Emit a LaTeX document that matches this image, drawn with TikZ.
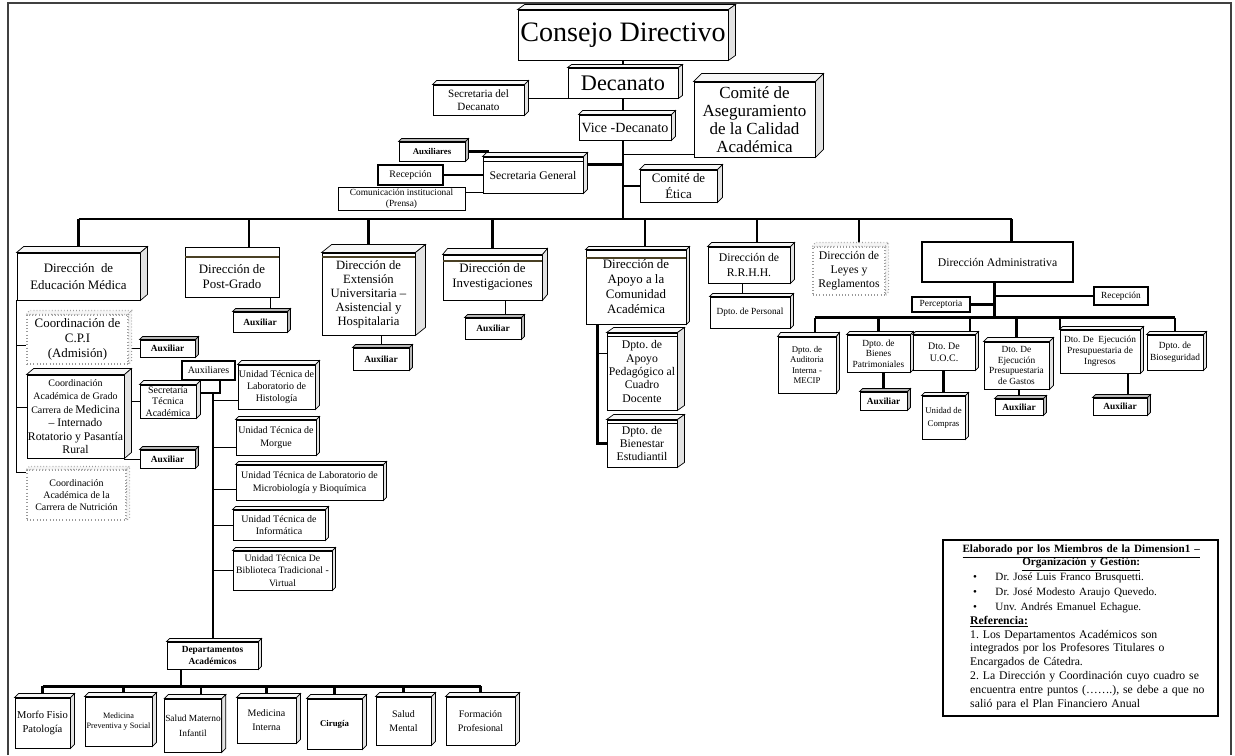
\documentclass[tikz,border=0pt]{standalone}
\usepackage{fontspec}
\setmainfont{Liberation Serif}
\usetikzlibrary{calc,backgrounds}
\definecolor{bandc}{RGB}{74,64,36}
\newcommand\myfs[2]{\fontsize{#1}{#2}\selectfont}
\newcommand\bx[7][]{\node[box,#1,minimum width={(#5-#3)*0.03cm},minimum height={(#6-#4)*0.03cm}] (#2) at ({(#3+#5)/2},{(#4+#6)/2}) {#7};}
\newcommand\mycube[4][]{%
 \filldraw[topface,#1] (#2.north west) -- ++(#3,-#4) -- ([shift={(#3,-#4)}]#2.north east) -- (#2.north east) -- cycle;
 \filldraw[sideface,#1] (#2.north east) -- ++(#3,-#4) -- ([shift={(#3,-#4)}]#2.south east) -- (#2.south east) -- cycle;}
\newcommand\myband[2]{\draw[bandline] ($(#1.north west)+(0.8,#2)$) -- ($(#1.north east)+(-0.8,#2)$);}
\tikzset{
 box/.style={draw, fill=white, line width=0.75pt, inner sep=0.5pt, align=center},
 dotbox/.style={draw=gray!80, dotted, line width=1pt},
 topface/.style={draw, fill=gray!6, line width=0.6pt},
 sideface/.style={draw, fill=gray!22, line width=0.6pt},
 darkface/.style={fill=gray!55},
 bandline/.style={draw=bandc, line width=1.6pt},
 thickl/.style={line width=2.3pt},
 medl/.style={line width=1.3pt},
 thinl/.style={line width=0.7pt},
 auxtxt/.style={font=\bfseries\myfs{8}{9}},
}
\begin{document}
\frenchspacing
\begin{tikzpicture}[x=0.03cm,y=-0.03cm]
\useasboundingbox (0,0) rectangle (1235,755);
\draw[line width=1.2pt, black!75] (8,755) -- (8,3) -- (1231,3) -- (1231,755);

% ---------- top ----------
\bx[font=\myfs{24}{28}]{cd}{518}{10}{728}{60}{Consejo Directivo}
\mycube{cd}{7}{5}
\bx[font=\myfs{19}{22}]{dec}{568}{68}{678}{98}{Decanato}
\mycube{dec}{4}{3}
\bx[font=\myfs{9.5}{11}]{secdec}{433}{85}{524}{115}{Secretaria del\\Decanato}
\mycube{secdec}{4}{4}
\bx[font=\myfs{12}{14}]{vice}{579}{115}{671}{140}{Vice -Decanato}
\mycube{vice}{4}{4}
\bx[font=\myfs{14.5}{15.4}]{comite}{694}{82}{815}{157}{Comité de\\Aseguramiento\\de la Calidad\\Académica}
\mycube{comite}{8}{8}
\bx[font=\bfseries\myfs{7.5}{9}]{aux0}{399}{142}{465}{161}{Auxiliares}
\mycube[darkface]{aux0}{3}{3}
\bx[font=\myfs{10}{12}]{sg}{483}{157}{583}{193}{Secretaria General}
\mycube{sg}{4}{4}
\draw[thinl] ($(sg.north west)+(0,5)$) -- ($(sg.north east)+(0,5)$);
\bx[font=\myfs{8.5}{10}, line width=1pt]{rec0}{378}{165}{443}{185}{Recepción}
\bx[font=\myfs{8}{9}]{com}{338}{187}{465}{210}{Comunicación institucional\\(Prensa)}
\bx[font=\myfs{11}{13}]{etica}{640}{170}{717}{202}{Comité de\\Ética}
\mycube{etica}{5}{5}

% ---------- level 2 ----------
\bx[font=\myfs{11}{15}]{dem}{17}{253}{140}{300}{Dirección~~de\\Educación Médica}
\mycube{dem}{7}{6}
\bx[font=\myfs{11}{13}]{dpg}{185}{247}{279}{297}{\\[2pt]Dirección de\\Post-Grado}
\myband{dpg}{10}
\bx[font=\myfs{10.8}{12}]{dext}{322}{253}{415}{335}{\\[-4pt]Dirección de\\Extensión\\Universitaria –\\Asistencial y\\Hospitalaria}
\mycube{dext}{10}{8}
\myband{dext}{4}
\bx[font=\myfs{11}{13}]{dinv}{443}{255}{542}{300}{\\[-6pt]Dirección de\\Investigaciones}
\mycube{dinv}{5}{6}
\myband{dinv}{6}
\bx[font=\myfs{11}{13}]{dapoyo}{586}{250}{686}{324}{\\[-6pt]Dirección de\\Apoyo a la\\Comunidad\\Académica}
\mycube{dapoyo}{3}{3}
\myband{dapoyo}{8}
\bx[font=\myfs{10}{12}]{rrhh}{708}{247}{790}{283}{Dirección de\\R.R.H.H.}
\mycube{rrhh}{4}{4}
\bx[dotbox,font=\myfs{10}{12}]{leyes}{813}{247}{885}{295}{Dirección de\\Leyes y\\Reglamentos}
\mycube[dotbox,fill=gray!8]{leyes}{3}{4}
\bx[font=\myfs{10}{12}, line width=1.2pt]{dadm}{922}{242}{1073}{282}{Dirección Administrativa}

% ---------- secondary ----------
\bx[auxtxt]{auxpg}{233}{312}{287}{332}{Auxiliar}
\mycube[darkface]{auxpg}{3}{3}
\bx[auxtxt]{auxext}{353}{348}{409}{370}{Auxiliar}
\mycube[darkface]{auxext}{3}{3}
\bx[auxtxt]{auxinv}{465}{318}{521}{339}{Auxiliar}
\mycube[darkface]{auxinv}{3}{3}
\bx[font=\myfs{10}{11.5}]{pedag}{607}{333}{677}{410}{Dpto. de\\Apoyo\\Pedagógico al\\Cuadro\\Docente}
\mycube{pedag}{7}{5}
\draw[thinl] ($(pedag.north west)+(0,4)$) -- ($(pedag.north east)+(0,4)$);
\bx[font=\myfs{10}{11.5}]{bienestar}{607}{420}{677}{467}{Dpto. de\\Bienestar\\Estudiantil}
\mycube{bienestar}{7}{5}
\draw[thinl] ($(bienestar.north west)+(0,4)$) -- ($(bienestar.north east)+(0,4)$);
\bx[font=\myfs{8}{10}]{personal}{710}{297}{790}{328}{Dpto. de Personal}
\mycube{personal}{3}{3}
\bx[font=\myfs{8}{9}, line width=1pt]{percep}{912}{297}{970}{312}{Perceptoria}
\bx[font=\myfs{8}{9}, line width=1pt]{rec1}{1094}{287}{1148}{305}{Recepción}
\bx[font=\myfs{7.5}{9}]{audit}{778}{337}{836}{393}{Dpto. de\\Auditoria\\Interna -\\MECIP}
\mycube{audit}{3}{4}
\bx[font=\myfs{8}{9}]{bienes}{847}{335}{910}{372}{Dpto. de\\Bienes\\Patrimoniales}
\mycube{bienes}{3}{3}
\bx[font=\myfs{8.5}{10.5}]{uoc}{913}{335}{975}{370}{Dto. De\\U.O.C.}
\mycube{uoc}{3}{3}
\bx[font=\myfs{7.5}{11}]{compras}{922}{396}{965}{439}{Unidad de\\Compras}
\mycube{compras}{3}{3}
\bx[auxtxt]{auxbienes}{860}{392}{907}{410}{Auxiliar}
\mycube[darkface]{auxbienes}{3}{3}
\bx[font=\myfs{8}{9}]{gastos}{984}{342}{1049}{389}{Dto. De\\Ejecución\\Presupuestaria\\de Gastos}
\mycube{gastos}{4}{4}
\bx[auxtxt]{auxgastos}{995}{399}{1043}{415}{Auxiliar}
\mycube[darkface]{auxgastos}{3}{3}
\bx[font=\myfs{8}{9.5}]{ingresos}{1060}{330}{1140}{373}{Dto. De~~Ejecución\\Presupuestaria de\\Ingresos}
\mycube{ingresos}{3}{3}
\bx[auxtxt]{auxing}{1093}{398}{1147}{415}{Auxiliar}
\mycube[darkface]{auxing}{3}{3}
\bx[font=\myfs{8}{10}]{bioseg}{1147}{335}{1203}{370}{Dpto. de\\Bioseguridad}
\mycube{bioseg}{3}{3}

% ---------- left column ----------
\bx[dotbox,font=\myfs{11}{13}]{cpi}{27}{315}{128}{364}{Coordinación de\\C.P.I\\(Admisión)}
\mycube[dotbox,fill=gray!8]{cpi}{3}{4}
\bx[auxtxt]{auxcpi}{140}{340}{195}{357}{Auxiliar}
\mycube[darkface]{auxcpi}{3}{3}
\bx[font=\myfs{8.5}{10}, line width=1pt]{auxs}{182}{361}{235}{380}{Auxiliares}
\bx[font=\myfs{8.5}{9.5}]{sta}{140}{385}{196}{418}{Secretaría\\Técnica\\Académica}
\mycube{sta}{4}{4}
\bx[font=\myfs{10}{11.5}]{cag}{27}{375}{124}{458}{{\myfs{8.5}{10}Coordinación}\\{\myfs{8.5}{10}Académica de Grado}\\{\myfs{8.5}{10}Carrera de }Medicina\\– Internado\\Rotatorio y Pasantía\\Rural}
\mycube{cag}{7}{6}
\bx[auxtxt]{auxcag}{140}{450}{195}{468}{Auxiliar}
\mycube[darkface]{auxcag}{3}{3}
\bx[dotbox,font=\myfs{8.5}{10.5}]{nutri}{27}{470}{126}{520}{Coordinación\\Académica de la\\Carrera de Nutrición}
\mycube[dotbox,fill=gray!8]{nutri}{3}{3}

% ---------- units ----------
\bx[font=\myfs{8.5}{10.5}]{histo}{238}{365}{315}{409}{Unidad Técnica de\\Laboratorio de\\Histología}
\mycube{histo}{4}{4}
\bx[font=\myfs{8.5}{10.5}]{morgue}{236}{420}{316}{455}{Unidad Técnica de\\Morgue}
\mycube{morgue}{3}{3}
\bx[font=\myfs{8.5}{10.5}]{micro}{236}{465}{383}{500}{Unidad Técnica de Laboratorio de\\Microbiología y Bioquímica}
\mycube{micro}{3}{3}
\bx[font=\myfs{8.5}{10.5}]{info}{233}{510}{325}{540}{Unidad Técnica de\\Informática}
\mycube{info}{3}{3}
\bx[font=\myfs{8.3}{10.5}]{biblio}{233}{551}{332}{590}{Unidad Técnica De\\Biblioteca Tradicional -\\Virtual}
\mycube{biblio}{3}{3}
\bx[font=\bfseries\myfs{8}{9.5}]{deptos}{167}{642}{258}{669}{Departamentos\\Académicos}
\mycube{deptos}{3}{3}

% ---------- bottom ----------
\bx[font=\myfs{9}{12}]{morfo}{15}{698}{70}{748}{Morfo Fisio\\Patología}
\mycube{morfo}{4}{4}
\bx[font=\myfs{7}{9}]{medprev}{85}{697}{152}{746}{Medicina\\Preventiva y Social}
\mycube{medprev}{4}{4}
\bx[font=\myfs{8}{13}]{saludmi}{165}{699}{221}{752}{Salud Materno\\Infantil}
\mycube{saludmi}{4}{4}
\bx[font=\myfs{8.5}{12}]{medint}{237}{698}{296}{743}{Medicina\\Interna}
\mycube{medint}{4}{4}
\bx[font=\bfseries\myfs{7.5}{9}]{cirugia}{307}{699}{362}{749}{Cirugía}
\mycube{cirugia}{4}{4}
\bx[font=\myfs{8.5}{12}]{smental}{376}{697}{431}{745}{Salud\\Mental}
\mycube{smental}{4}{4}
\bx[font=\myfs{8.5}{12}]{formacion}{446}{697}{515}{745}{Formación\\Profesional}
\mycube{formacion}{4}{4}

% ---------- legend ----------
\node[draw, line width=0.9pt, minimum width={275*0.03cm}, minimum height={176*0.03cm}, inner sep=0pt] (legend) at (1080.5,628) {};
\node[anchor=north west, inner sep=0pt, text width={270*0.03cm}, align=left] (legtext) at (946,545) {%
{\centering\bfseries\myfs{9.5}{11}\underline{Elaborado por los Miembros de la Dimension1 –}\\\underline{Organización y Gestión:}\par}%
{\myfs{9.5}{12.6}\leftskip=0.81cm\relax
\textbullet\hspace{0.55cm}Dr. José Luis Franco Brusquetti.\\
\textbullet\hspace{0.55cm}Dr. José Modesto Araujo Quevedo.\\
\textbullet\hspace{0.55cm}Unv. Andrés Emanuel Echague.\par}%
{\myfs{10}{11.9}\leftskip=0.72cm\relax
\textbf{\underline{Referencia:}}\\
1. Los Departamentos Académicos son\\
integrados por los Profesores Titulares o\\
Encargados de Cátedra.\\
2. La Dirección y Coordinación cuyo cuadro se\\
encuentra entre puntos (…….), se debe a que no\\
salió para el Plan Financiero Anual\par}%
};

% ---------- connectors ----------
\begin{pgfonlayer}{background}
\coordinate (bar) at (623,219);
\draw[thickl] (cd.south) -- (bar);
\coordinate (s1) at ($(secdec.east)+(0,-2)$);
\draw[thinl] (s1) -- (s1 -| dec.west);
\coordinate (c1) at ($(comite.south west)+(0,-3)$);
\draw[thinl] (c1) -- (c1 -| bar);
\draw[thickl] (aux0.east) -| ($(sg.north west)+(5,0)$);
\draw[thickl] (rec0.east) -- (rec0.east -| sg.west);
\coordinate (p1) at ($(com.north east)+(0,6)$);
\draw[thinl] (p1) -- (p1 -| sg.west);
\coordinate (g1) at ($(sg.north east)+(0,8)$);
\draw[thickl] (g1) -- (g1 -| bar);
\draw[thickl] (etica.west) -- (etica.west -| bar);

\coordinate (dpgd) at ($(dpg.north)+(17,0)$);
\coordinate (apd) at ($(dapoyo.north)+(9,0)$);
\coordinate (rhd) at ($(rrhh.north)+(8,0)$);
\coordinate (lyd) at ($(leyes.north)+(10,0)$);
\coordinate (add) at ($(dadm.north)+(14,0)$);
\draw[thickl] (bar -| dem.north) -- (bar -| add);
\foreach \t in {dem.north, dpgd, dext.north, dinv.north, apd, rhd, lyd, add}
  \draw[thickl] (bar -| \t) -- (\t);

\coordinate (k1) at ($(auxpg.north)+(10,0)$);
\draw[thinl] (k1 |- dpg.south) -- (k1);
\draw[thinl] (auxext.north |- dext.south) -- (auxext.north);
\coordinate (k2) at ($(auxinv.north)+(12,0)$);
\draw[thinl] (k2 |- dinv.south) -- (k2);
\coordinate (ap) at ($(dapoyo.south west)+(12,0)$);
\draw[thickl] (ap) |- (bienestar.west);
\coordinate (k3) at ($(pedag.north west)+(0,21)$);
\draw[thinl] (k3 -| ap) -- (k3);
\coordinate (k4) at ($(rrhh.south)+(-7,0)$);
\draw[thinl] (k4) -- (k4 |- personal.north);

\coordinate (sb) at ($(dadm.south)+(-3,35)$);
\draw[thickl] (sb |- dadm.south) -- (sb);
\draw[thickl] (percep.east) -- (percep.east -| sb);
\draw[thickl] (rec1.west) -- (rec1.west -| sb);
\coordinate (d1) at ($(audit.north)+(8,0)$);
\coordinate (d3) at ($(uoc.north)+(26,0)$);
\coordinate (d5) at ($(ingresos.north)+(-40,0)$);
\draw[thickl] (sb -| d1) -- (sb -| bioseg.north);
\foreach \t in {d1, bienes.north, d3, gastos.north, d5, bioseg.north}
  \draw[thickl] (sb -| \t) -- (\t);
\draw[thickl] (compras.north |- uoc.south) -- (compras.north);
\draw[thickl] (auxbienes.north |- bienes.south) -- (auxbienes.north);
\draw[thickl] (auxgastos.north |- gastos.south) -- (auxgastos.north);
\coordinate (k5) at ($(auxing.north)+(8,0)$);
\draw[thickl] (k5 |- ingresos.south) -- (k5);

\coordinate (lv) at (dem.south west);
\draw[medl] (lv) |- ($(nutri.north west)+(0,3)$);
\coordinate (t1) at ($(cpi.west)+(0,6)$);
\draw[thinl] (t1 -| lv) -- (t1);
\coordinate (t2) at ($(cag.west)+(0,-9)$);
\draw[thinl] (t2 -| lv) -- (t2);
\draw[thinl] (auxcpi.west -| cpi.east) -- (auxcpi.west);
\draw[thinl] (auxcag.west -| cag.east) -- (auxcag.west);
\draw[thinl] (sta.west -| cag.east) -- (sta.west);
\coordinate (us) at (213,393);
\draw[thickl] (sta.east |- us) -- (us) -- (us |- deptos.north);
\coordinate (ax) at ($(auxs.south)+(11.5,0)$);
\draw[thickl] (ax) |- (us);
\coordinate (u1) at ($(histo.west)+(0,13)$);
\draw[thinl] (u1 -| us) -- (u1);
\coordinate (u2) at ($(morgue.west)+(0,10)$);
\draw[thinl] (u2 -| us) -- (u2);
\coordinate (u3) at ($(micro.west)+(0,7)$);
\draw[thinl] (u3 -| us) -- (u3);
\draw[thinl] (info.west -| us) -- (info.west);
\draw[thinl] (biblio.west -| us) -- (biblio.west);

\coordinate (bb) at ($(deptos.south)+(-31.5,17)$);
\draw[thickl] (bb |- deptos.south) -- (bb);
\coordinate (b2) at ($(medprev.north)+(5,0)$);
\coordinate (b3) at ($(saludmi.north)+(8,0)$);
\draw[thickl] (bb -| morfo.north) -- (bb -| formacion.north);
\foreach \t in {morfo.north, b2, b3, medint.north, cirugia.north, smental.north, formacion.north}
  \draw[thickl] (bb -| \t) -- (\t);
\end{pgfonlayer}
\end{tikzpicture}
\end{document}
